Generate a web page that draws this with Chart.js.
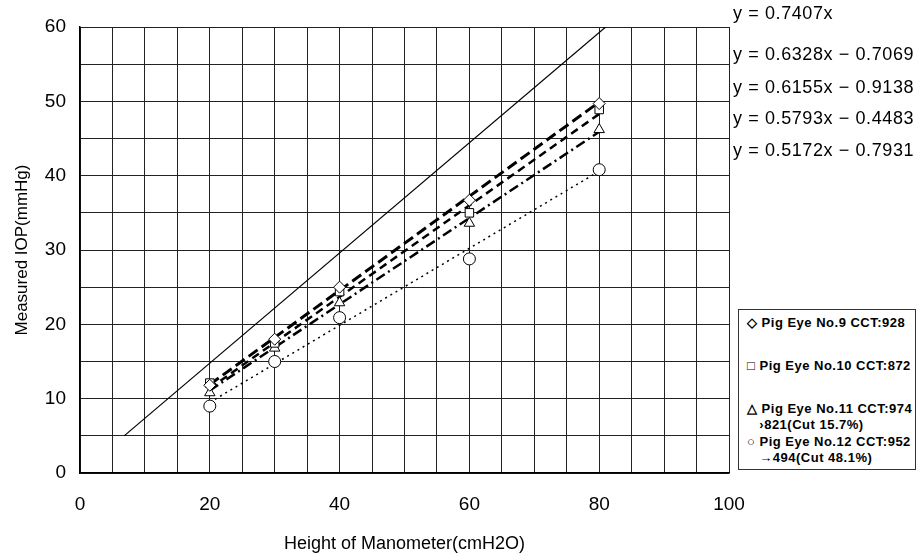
<!DOCTYPE html>
<html>
<head>
<meta charset="utf-8">
<script src="https://cdn.jsdelivr.net/npm/chart.js@4.4.0/dist/chart.umd.min.js"></script>
<style>
body { margin: 0; background: #fff; }
#wrap { position: relative; width: 922px; height: 559px; }
.eq { position: absolute; left: 733px; font: 18px "Liberation Sans", Arial, sans-serif; letter-spacing: 0.6px; color: #000; white-space: nowrap; line-height: 20px; }
#leyenda { position: absolute; left: 738px; top: 309px; width: 178px; height: 161px; border: 1px solid #333; box-sizing: border-box; background: #fff; }
.item { position: absolute; left: 8px; font: bold 13px "Liberation Sans", Arial, sans-serif; letter-spacing: 0.5px; color: #000; white-space: nowrap; line-height: 16px; }
</style>
</head>
<body>
<div id="wrap">
    <canvas id="iopChart" width="922" height="559"></canvas>
    <div id="ecuaciones"></div>
    <div id="leyenda"></div>
</div>
<script>
// Datos
const alturas = [20, 30, 40, 60, 80];
const ojo9  = [11.8, 18.0, 25.0, 36.7, 49.7];
const ojo10 = [12.1, 17.5, 24.4, 35.0, 48.9];
const ojo11 = [10.8, 16.8, 22.9, 33.6, 46.2];
const ojo12 = [9.0, 15.0, 20.9, 28.8, 40.8];

// Lineas de tendencia (extremos en x=20 y x=80)
const tendX   = [20, 80];
const tend9   = [11.9, 49.9];
const tend10  = [11.4, 48.3];
const tend11  = [11.1, 45.9];
const tend12  = [9.5, 40.6];

// Linea de referencia y = 0.7407x
const refX = [6.8, 81];
const refY = [5, 60];

const ecuaciones = [
    'y = 0.7407x',
    'y = 0.6328x \u2212 0.7069',
    'y = 0.6155x \u2212 0.9138',
    'y = 0.5793x \u2212 0.4483',
    'y = 0.5172x \u2212 0.7931'
];
const simbolos = ['\u25C7', '\u25A1', '\u25B3', '\u25CB'];
const etiquetas = [
    ['Pig Eye No.9 CCT:928'],
    ['Pig Eye No.10 CCT:872'],
    ['Pig Eye No.11 CCT:974', '\u203A821(Cut 15.7%)'],
    ['Pig Eye No.12 CCT:952', '\u2192494(Cut 48.1%)']
];

function puntos(xs, ys) {
    return xs.map((x, i) => ({ x: x, y: ys[i] }));
}

// Ecuaciones (texto)
const topsEq = [3, 44, 77, 108, 140];
const contEq = document.getElementById('ecuaciones');
ecuaciones.forEach((t, i) => {
    const d = document.createElement('div');
    d.className = 'eq';
    d.style.top = topsEq[i] + 'px';
    d.textContent = t;
    contEq.appendChild(d);
});

// Leyenda
const topsLey = [5, 48, 91, 124];
const contLey = document.getElementById('leyenda');
etiquetas.forEach((lineas, i) => {
    const d = document.createElement('div');
    d.className = 'item';
    d.style.top = topsLey[i] + 'px';
    d.innerHTML = simbolos[i] + ' ' + lineas[0] + (lineas[1] ? '<br>&nbsp;&nbsp;&nbsp;' + lineas[1] : '');
    contLey.appendChild(d);
});

const marcador = (estilo) => ({
    pointStyle: estilo,
    pointRadius: 6,
    pointBackgroundColor: '#fff',
    pointBorderColor: '#000',
    pointBorderWidth: 1,
    showLine: false,
    order: 0
});

const tendencia = (ys, dash, ancho) => ({
    data: puntos(tendX, ys),
    showLine: true,
    borderColor: '#000',
    borderWidth: ancho,
    borderDash: dash,
    pointRadius: 0,
    order: 1
});

const ctx = document.getElementById('iopChart').getContext('2d');
new Chart(ctx, {
    type: 'scatter',
    data: {
        datasets: [
            Object.assign({ label: 'Pig Eye No.9', data: puntos(alturas, ojo9) }, marcador('rectRot')),
            Object.assign({ label: 'Pig Eye No.10', data: puntos(alturas, ojo10) }, marcador('rect')),
            Object.assign({ label: 'Pig Eye No.11', data: puntos(alturas, ojo11) }, marcador('triangle')),
            Object.assign({ label: 'Pig Eye No.12', data: puntos(alturas, ojo12) }, marcador('circle')),
            tendencia(tend9, [11, 5], 3),
            tendencia(tend10, [8, 5], 2.5),
            tendencia(tend11, [10, 4, 2, 4], 2.5),
            tendencia(tend12, [2, 4], 1.5),
            {
                data: puntos(refX, refY),
                showLine: true,
                borderColor: '#000',
                borderWidth: 1.2,
                pointRadius: 0,
                order: 2
            }
        ]
    },
    options: {
        responsive: false,
        animation: false,
        layout: { padding: { top: 27, right: 193, left: 0, bottom: 0 } },
        plugins: {
            legend: { display: false },
            tooltip: { enabled: false }
        },
        scales: {
            x: {
                type: 'linear',
                min: 0,
                max: 100,
                afterFit: (s) => { s.height = 86; },
                ticks: {
                    stepSize: 5,
                    autoSkip: false,
                    maxRotation: 0,
                    padding: 20,
                    color: '#000',
                    font: { family: 'Liberation Sans', size: 19 },
                    callback: (v) => (v % 20 === 0 ? v : '')
                },
                grid: { color: '#222', lineWidth: 1, drawTicks: false },
                border: { color: '#000', width: 1.5 },
                title: {
                    display: true,
                    text: 'Height of Manometer(cmH2O)',
                    color: '#000',
                    font: { family: 'Liberation Sans', size: 18 },
                    padding: { top: 6 }
                }
            },
            y: {
                min: 0,
                max: 60,
                afterFit: (s) => { s.width = 80; },
                ticks: {
                    stepSize: 5,
                    autoSkip: false,
                    padding: 14,
                    color: '#000',
                    font: { family: 'Liberation Sans', size: 19 },
                    callback: (v) => (v % 10 === 0 ? v : '')
                },
                grid: { color: '#222', lineWidth: 1, drawTicks: false },
                border: { color: '#000', width: 1.5 },
                title: {
                    display: true,
                    text: 'Measured IOP(mmHg)',
                    color: '#000',
                    font: { family: 'Liberation Sans', size: 17 },
                    padding: { top: 12, bottom: 4 }
                }
            }
        }
    }
});
</script>
</body>
</html>
